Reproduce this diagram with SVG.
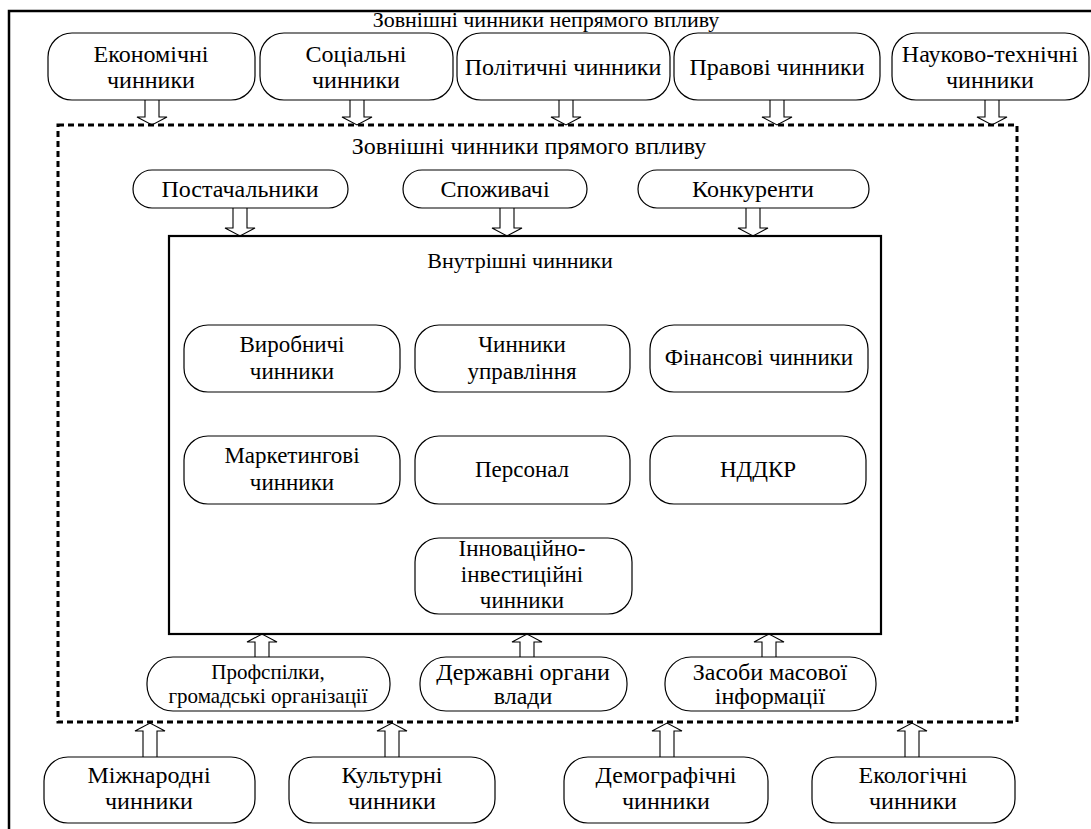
<svg xmlns="http://www.w3.org/2000/svg" width="1091" height="829" viewBox="0 0 1091 829" font-family="'Liberation Serif', 'Times New Roman', 'DejaVu Serif', serif">
<defs>
<style>
text{font-family:'Liberation Serif','Times New Roman','DejaVu Serif',serif;font-size:24px;fill:#000;text-anchor:middle}
.t{font-size:22px}
.i{font-size:23px}
.h{font-size:22px}
.sm{font-size:21px}
.n{fill:#fff;stroke:#000;stroke-width:1.2}
.ar{fill:#fff;stroke:#000;stroke-width:1.1}
</style>
</defs>
<rect width="1091" height="829" fill="#fff"/>
<path d="M9,829 V11 H1091" fill="none" stroke="#000" stroke-width="2.5"/>
<text class="t" x="546" y="27">Зовнішні чинники непрямого впливу</text>

<g id="connectors">
<path class="ar" d="M145,100 V117 H137 L152,125 L167,117 H159 V100"/>
<path class="ar" d="M350,100 V117 H342 L357,125 L372,117 H364 V100"/>
<path class="ar" d="M559,100 V117 H551 L566,125 L581,117 H573 V100"/>
<path class="ar" d="M770,100 V117 H762 L777,125 L792,117 H784 V100"/>
<path class="ar" d="M985,100 V117 H977 L992,125 L1007,117 H999 V100"/>
<path class="ar" d="M233,208 V228 H225 L240,236 L255,228 H247 V208"/>
<path class="ar" d="M500,208 V228 H492 L507,236 L522,228 H514 V208"/>
<path class="ar" d="M746,208 V228 H738 L753,236 L768,228 H760 V208"/>
<path class="ar" d="M255,657 V642 H247 L262,634 L277,642 H269 V657"/>
<path class="ar" d="M520,657 V642 H512 L527,634 L542,642 H534 V657"/>
<path class="ar" d="M762,657 V642 H754 L769,634 L784,642 H776 V657"/>
<path class="ar" d="M143,757 V731 H135 L150,723 L165,731 H157 V757"/>
<path class="ar" d="M385,757 V731 H377 L392,723 L407,731 H399 V757"/>
<path class="ar" d="M660,757 V731 H652 L667,723 L682,731 H674 V757"/>
<path class="ar" d="M905,757 V731 H897 L912,723 L927,731 H919 V757"/>
</g>

<rect id="direct-frame" x="58" y="125" width="959" height="597" fill="none" stroke="#000" stroke-width="3" stroke-dasharray="6 4"/>
<text x="529" y="154">Зовнішні чинники прямого впливу</text>

<g id="n-econ"><rect class="n" x="48" y="33" width="207" height="67" rx="24"/><text x="151" y="62">Економічні</text><text x="151" y="88">чинники</text></g>
<g id="n-soc"><rect class="n" x="260" y="33" width="193" height="67" rx="24"/><text x="356" y="62">Соціальні</text><text x="356" y="88">чинники</text></g>
<g id="n-pol"><rect class="n" x="457" y="33" width="213" height="67" rx="24"/><text x="563" y="75">Політичні чинники</text></g>
<g id="n-prav"><rect class="n" x="674" y="33" width="206" height="67" rx="24"/><text x="777" y="75">Правові чинники</text></g>
<g id="n-nauk"><rect class="n" x="892" y="33" width="197" height="67" rx="24"/><text x="990" y="62">Науково-технічні</text><text x="990" y="88">чинники</text></g>

<g id="n-post"><rect class="n" x="133" y="170" width="215" height="38" rx="19"/><text x="240" y="197">Постачальники</text></g>
<g id="n-spoz"><rect class="n" x="403" y="170" width="184" height="38" rx="19"/><text x="495" y="197">Споживачі</text></g>
<g id="n-konk"><rect class="n" x="638" y="170" width="231" height="38" rx="19"/><text x="753" y="197">Конкуренти</text></g>

<rect id="internal-frame" x="169" y="236" width="712" height="398" fill="none" stroke="#000" stroke-width="2.2"/>
<text class="h" x="520" y="268">Внутрішні чинники</text>

<g id="n-vyr"><rect class="n" x="184" y="325" width="216" height="67" rx="24"/><text class="i" x="292" y="352">Виробничі</text><text class="i" x="292" y="379">чинники</text></g>
<g id="n-upr"><rect class="n" x="415" y="325" width="215" height="67" rx="24"/><text class="i" x="522" y="352">Чинники</text><text class="i" x="522" y="379">управління</text></g>
<g id="n-fin"><rect class="n" x="650" y="325" width="218" height="67" rx="24"/><text class="i" x="759" y="365">Фінансові чинники</text></g>
<g id="n-mark"><rect class="n" x="184" y="436" width="216" height="68" rx="24"/><text class="i" x="292" y="463">Маркетингові</text><text class="i" x="292" y="490">чинники</text></g>
<g id="n-pers"><rect class="n" x="415" y="436" width="215" height="68" rx="24"/><text class="i" x="522" y="477">Персонал</text></g>
<g id="n-nddkr"><rect class="n" x="650" y="436" width="216" height="68" rx="24"/><text class="i" x="758" y="477">НДДКР</text></g>
<g id="n-innov"><rect class="n" x="415" y="538" width="217" height="76" rx="24"/><text class="i" x="522" y="556">Інноваційно-</text><text class="i" x="522" y="582">інвестиційні</text><text class="i" x="522" y="608">чинники</text></g>

<g id="n-prof"><rect class="n" x="147" y="657" width="243" height="54" rx="26"/><text class="sm" x="268" y="679">Профспілки,</text><text class="sm" x="268" y="703">громадські організації</text></g>
<g id="n-derzh"><rect class="n" x="420" y="657" width="207" height="54" rx="26"/><text x="523" y="680">Державні органи</text><text x="523" y="704">влади</text></g>
<g id="n-zmi"><rect class="n" x="665" y="657" width="211" height="54" rx="26"/><text x="770" y="680">Засоби масової</text><text x="770" y="704">інформації</text></g>

<g id="n-mizh"><rect class="n" x="44" y="757" width="211" height="66" rx="24"/><text x="149" y="783">Міжнародні</text><text x="149" y="809">чинники</text></g>
<g id="n-kult"><rect class="n" x="289" y="757" width="206" height="66" rx="24"/><text x="392" y="783">Культурні</text><text x="392" y="809">чинники</text></g>
<g id="n-demo"><rect class="n" x="564" y="757" width="204" height="66" rx="24"/><text x="666" y="783">Демографічні</text><text x="666" y="809">чинники</text></g>
<g id="n-eko"><rect class="n" x="812" y="757" width="203" height="66" rx="24"/><text x="913" y="783">Екологічні</text><text x="913" y="809">чинники</text></g>
</svg>
